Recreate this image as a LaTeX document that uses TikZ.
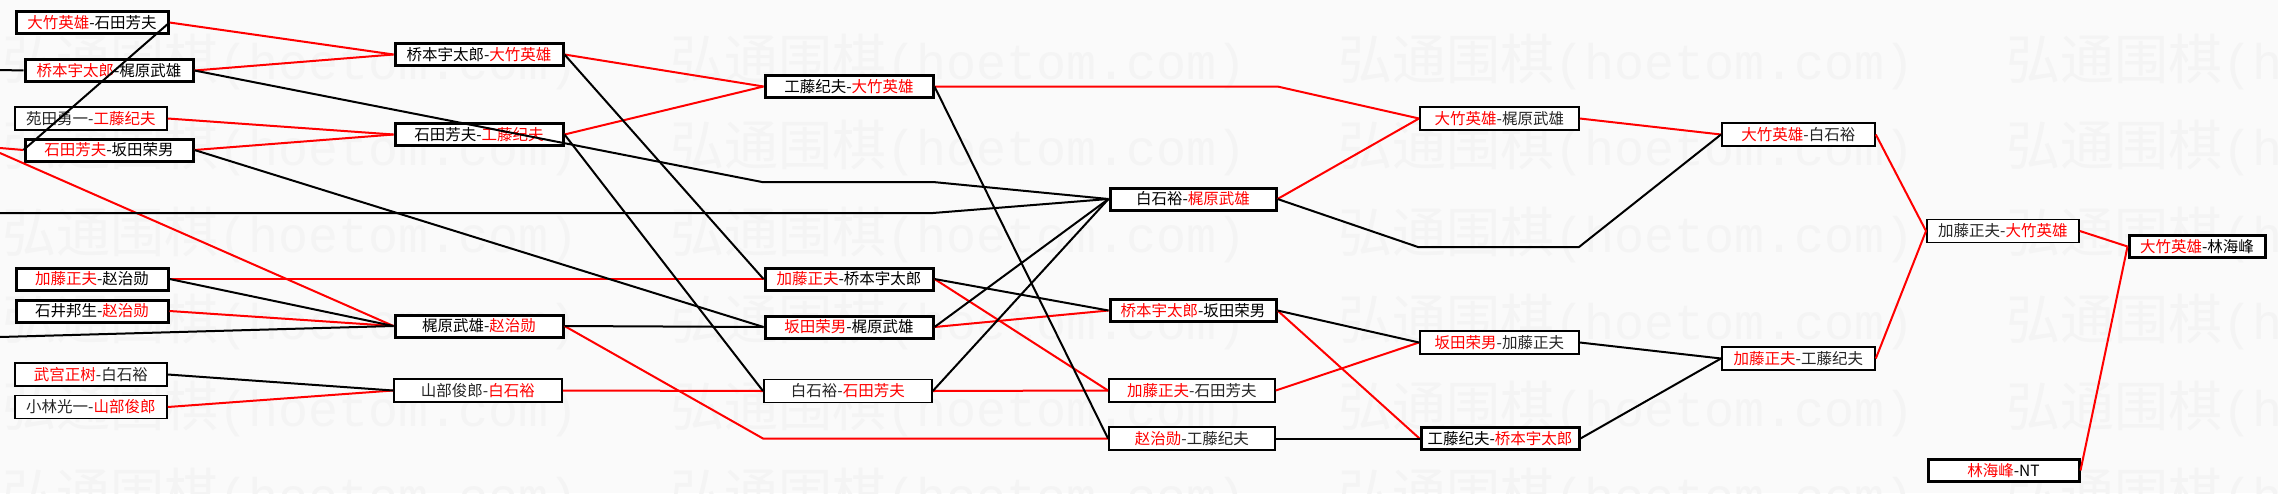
\documentclass[tikz,border=0pt]{standalone}
\usepackage{fontspec}
\setmainfont{Noto Sans CJK SC}
\setmonofont{Liberation Mono}
\newcommand{\wn}[1]{\textcolor{red}{#1}}

\begin{document}
\begin{tikzpicture}[x=1pt,y=-1pt,
  box/.style={draw,rectangle,anchor=west,fill=white,inner sep=0pt,font=\fontsize{15.5}{16}\selectfont},
  thk/.style={box,line width=3pt,minimum height=22pt},
  thn/.style={box,line width=1.8pt,minimum height=23pt,text=black!85},
  win/.style={red,line width=2pt},
  lose/.style={black,line width=2pt}]
\useasboundingbox (0,0) rectangle (2278,493);
\clip (0,0) rectangle (2278,493);
\fill[black!2] (0,0) rectangle (2278,493);
% watermark rows
\foreach \y in {62,148,235,322,409,496}{
  \foreach \x in {2,670,1338,2006}{
    \node[anchor=west,inner sep=0pt,text=black!4.5] (w-\x-\y) at (\x,\y)
      {\fontsize{54}{54}\selectfont 弘通围棋\fontsize{50}{50}\selectfont\ttfamily(hoetom.com)};
  }
}
% column 1
\node[thk,minimum width=152pt] (a1) at (14.5,22.5) {\wn{大竹英雄}-石田芳夫};
\node[thk,minimum width=168pt] (a2) at (23.5,70.5) {\wn{桥本宇太郎}-梶原武雄};
\node[thn,minimum width=152pt] (a3) at (14,118.5) {苑田勇一-\wn{工藤纪夫}};
\node[thk,minimum width=168pt] (a4) at (23.5,150) {\wn{石田芳夫}-坂田荣男};
\node[thk,minimum width=152pt] (a5) at (14.5,279) {\wn{加藤正夫}-赵治勋};
\node[thk,minimum width=152pt] (a6) at (14.5,311) {石井邦生-\wn{赵治勋}};
\node[thn,minimum width=152pt] (a7) at (14,374.5) {\wn{武宫正树}-白石裕};
\node[thn,minimum width=152pt] (a8) at (14,407) {小林光一-\wn{山部俊郎}};
% column 2
\node[thk,minimum width=168pt] (b1) at (393.5,54.5) {桥本宇太郎-\wn{大竹英雄}};
\node[thk,minimum width=168pt] (b2) at (393.5,134.5) {石田芳夫-\wn{工藤纪夫}};
\node[thk,minimum width=168pt] (b3) at (393.5,326) {梶原武雄-\wn{赵治勋}};
\node[thn,minimum width=168pt] (b4) at (393,390.5) {山部俊郎-\wn{白石裕}};
% column 3
\node[thk,minimum width=168pt] (c1) at (763.5,86.5) {工藤纪夫-\wn{大竹英雄}};
\node[thk,minimum width=168pt] (c2) at (763.5,279) {\wn{加藤正夫}-桥本宇太郎};
\node[thk,minimum width=168pt] (c3) at (763.5,327) {\wn{坂田荣男}-梶原武雄};
\node[thn,minimum width=168pt] (c4) at (763,391) {白石裕-\wn{石田芳夫}};
% column 4
\node[thk,minimum width=166pt] (d1) at (1108.5,199) {白石裕-\wn{梶原武雄}};
\node[thk,minimum width=166pt] (d2) at (1108.5,310.5) {\wn{桥本宇太郎}-坂田荣男};
\node[thn,minimum width=166pt] (d3) at (1108,390.5) {\wn{加藤正夫}-石田芳夫};
\node[thn,minimum width=166pt] (d4) at (1108,438.5) {\wn{赵治勋}-工藤纪夫};
% column 5
\node[thn,minimum width=159pt] (e1) at (1419,118.5) {\wn{大竹英雄}-梶原武雄};
\node[thn,minimum width=159pt] (e2) at (1419,342.5) {\wn{坂田荣男}-加藤正夫};
\node[thk,minimum width=158pt] (e3) at (1419.5,438.5) {工藤纪夫-\wn{桥本宇太郎}};
% column 6
\node[thn,minimum width=153pt] (f1) at (1721,134.5) {\wn{大竹英雄}-白石裕};
\node[thn,minimum width=153pt] (f2) at (1721,358.5) {\wn{加藤正夫}-工藤纪夫};
% column 7 and final
\node[thn,minimum width=152pt] (g1) at (1926,231) {加藤正夫-\wn{大竹英雄}};
\node[thk,minimum width=151pt] (g2) at (1926.5,470.5) {\wn{林海峰}-NT};
\node[thk,minimum width=136pt] (h1) at (2127.5,246.5) {\wn{大竹英雄}-林海峰};
% free ends and bends
\coordinate (l1) at (0,70);
\coordinate (l2) at (0,148);
\coordinate (l3) at (0,153);
\coordinate (l4) at (0,213);
\coordinate (l5) at (0,337);
\coordinate (k1) at (762,182);
\coordinate (k2) at (933,182);
\coordinate (k3) at (1418,247);
\coordinate (k4) at (1579,247);
% winners
\draw[win] (a1.east) -- (b1.west);
\draw[win] (a2.east) -- (b1.west);
\draw[win] (a3.east) -- (b2.west);
\draw[win] (a4.east) -- (b2.west);
\draw[win] (l2) -- (a4.west);
\draw[win] (l3) -- (b3.west);
\draw[win] (a6.east) -- (b3.west);
\draw[win] (a8.east) -- (b4.west);
\draw[win] (a5.east) -- (c2.west);
\draw[win] (b1.east) -- (c1.west);
\draw[win] (b2.east) -- (c1.west);
\draw[win] (b3.east) -- (c4.west |- d4.west) -- (d4.west);
\draw[win] (b4.east) -- (c4.west);
\draw[win] (c2.east) -- (d3.west);
\draw[win] (c3.east) -- (d2.west);
\draw[win] (c4.east) -- (d3.west);
\draw[win] (c1.east) -- (d1.east |- c1.east) -- (e1.west);
\draw[win] (d1.east) -- (e1.west);
\draw[win] (d2.east) -- (e3.west);
\draw[win] (d3.east) -- (e2.west);
\draw[win] (e1.east) -- (f1.west);
\draw[win] (f1.east) -- (g1.west);
\draw[win] (f2.east) -- (g1.west);
\draw[win] (g1.east) -- (h1.west);
\draw[win] (g2.east) -- (h1.west);
% losers
\draw[lose] (l1) -- (a2.west);
\draw[lose] (a1.east) -- (a4.west);
\draw[lose] (a2.east) -- (k1) -- (k2) -- (d1.west);
\draw[lose] (l4) -- (k2 |- l4) -- (d1.west);
\draw[lose] (l5) -- (b3.west);
\draw[lose] (a5.east) -- (b3.west);
\draw[lose] (a7.east) -- (b4.west);
\draw[lose] (a4.east) -- (c3.west);
\draw[lose] (b1.east) -- (c2.west);
\draw[lose] (b2.east) -- (c4.west);
\draw[lose] (b3.east) -- (c3.west);
\draw[lose] (c1.east) -- (d4.west);
\draw[lose] (c2.east) -- (d2.west);
\draw[lose] (c3.east) -- (d1.west);
\draw[lose] (c4.east) -- (d1.west);
\draw[lose] (d1.east) -- (k3) -- (k4) -- (f1.west);
\draw[lose] (d2.east) -- (e2.west);
\draw[lose] (d4.east) -- (e3.west);
\draw[lose] (e2.east) -- (f2.west);
\draw[lose] (e3.east) -- (f2.west);
\end{tikzpicture}
\end{document}
